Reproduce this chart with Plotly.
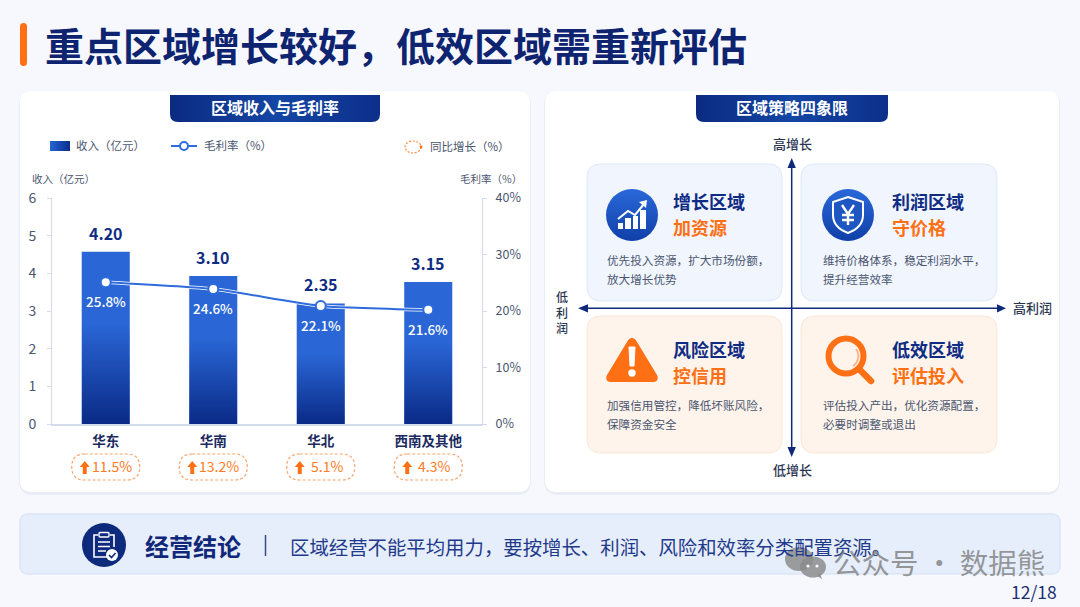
import base64

import plotly.graph_objects as go

W, H = 1080, 607
FONT = "Noto Sans CJK SC"
NAVY = "#0F2C84"
ORANGE = "#FF7014"
BLUE = "#2E6BDC"
GREY = "#4B566F"

categories = ["华东", "华南", "华北", "西南及其他"]
bar_heights = [4.57, 3.93, 3.2, 3.77]
bar_labels = ["4.20", "3.10", "2.35", "3.15"]
margin_points = [25.1, 23.9, 20.9, 20.2]
margin_labels = ["25.8%", "24.6%", "22.1%", "21.6%"]
growth_labels = ["11.5%", "13.2%", "5.1%", "4.3%"]
left_ticks = [0, 1, 2, 3, 4, 5, 6]
right_ticks = [0, 10, 20, 30, 40]
right_tick_labels = ["0%", "10%", "20%", "30%", "40%"]

quad_titles = ["增长区域", "利润区域", "风险区域", "低效区域"]
quad_actions = ["加资源", "守价格", "控信用", "评估投入"]
quad_lines = [
    ["优先投入资源，扩大市场份额，", "放大增长优势"],
    ["维持价格体系，稳定利润水平，", "提升经营效率"],
    ["加强信用管控，降低坏账风险，", "保障资金安全"],
    ["评估投入产出，优化资源配置，", "必要时调整或退出"],
]

PLOT_L, PLOT_R, PLOT_T, PLOT_B = 52, 482, 198, 424
BAR_W = 0.447


def fx(x):
    return x / W


def fy(y):
    return 1 - y / H


def rr_path(x0, y0, x1, y1, r, corners=(1, 1, 1, 1)):
    tl, tr, br, bl = [r * c for c in corners]
    pts = [
        f"M{fx(x0 + tl)},{fy(y0)}", f"L{fx(x1 - tr)},{fy(y0)}",
        f"Q{fx(x1)},{fy(y0)} {fx(x1)},{fy(y0 + tr)}", f"L{fx(x1)},{fy(y1 - br)}",
        f"Q{fx(x1)},{fy(y1)} {fx(x1 - br)},{fy(y1)}", f"L{fx(x0 + bl)},{fy(y1)}",
        f"Q{fx(x0)},{fy(y1)} {fx(x0)},{fy(y1 - bl)}", f"L{fx(x0)},{fy(y0 + tl)}",
        f"Q{fx(x0)},{fy(y0)} {fx(x0 + tl)},{fy(y0)}", "Z",
    ]
    return " ".join(pts)


shapes = []
images = []
notes = []


def box(x0, y0, x1, y1, r, fill, line=None, lw=1, dash=None, layer="below"):
    shapes.append(dict(type="path", path=rr_path(x0, y0, x1, y1, r), xref="paper", yref="paper",
                       fillcolor=fill, line=dict(color=line or "rgba(0,0,0,0)", width=lw if line else 0, dash=dash),
                       layer=layer))


def seg(x0, y0, x1, y1, color, lw=1.5, layer="below"):
    shapes.append(dict(type="line", x0=fx(x0), y0=fy(y0), x1=fx(x1), y1=fy(y1), xref="paper", yref="paper",
                       line=dict(color=color, width=lw), layer=layer))


def tri(a, b, c, color):
    path = f"M{fx(a[0])},{fy(a[1])} L{fx(b[0])},{fy(b[1])} L{fx(c[0])},{fy(c[1])} Z"
    shapes.append(dict(type="path", path=path, xref="paper", yref="paper", fillcolor=color,
                       line=dict(width=0), layer="above"))


def txt(x, y, text, size, color, weight=400, anchor="left"):
    # the CJK font sits about a pixel low in its box
    notes.append(dict(x=fx(x), y=fy(y - 1), xref="paper", yref="paper", text=text, showarrow=False,
                      xanchor=anchor, yanchor="middle", align="center", borderpad=0, borderwidth=0,
                      font=dict(family=FONT, size=size, color=color, weight=weight)))


def uri(doc):
    return "data:image/svg+xml;base64," + base64.b64encode(doc.encode()).decode()


def svg(x0, y0, x1, y1, body, vw=None, vh=None):
    vw = vw or (x1 - x0)
    vh = vh or (y1 - y0)
    doc = (f'<svg xmlns="http://www.w3.org/2000/svg" width="{vw * 4}" height="{vh * 4}" '
           f'viewBox="0 0 {vw} {vh}" preserveAspectRatio="none">{body}</svg>')
    images.append(dict(source=uri(doc), xref="paper", yref="paper", x=fx(x0), y=fy(y0),
                       sizex=(x1 - x0) / W, sizey=(y1 - y0) / H, xanchor="left", yanchor="top",
                       sizing="stretch", layer="above"))


def cat_x(i):
    return PLOT_L + (i + 0.5) * (PLOT_R - PLOT_L) / len(categories)


# page furniture
box(20, 23, 27, 66, 3.5, ORANGE)
txt(45, 45, "重点区域增长较好，低效区域需重新评估", 39, "#0E2470", 700)

for x0, x1 in [(20, 530), (545, 1059)]:
    box(x0 - 1, 91, x1 + 1, 495, 14, "#E9EDF6")
    box(x0, 91, x1, 492, 12, "#FFFFFF")


def tab(x0, x1, label):
    w = x1 - x0
    body = ('<defs><linearGradient id="g"><stop offset="0" stop-color="#0B2A80"/><stop offset=".5" '
            'stop-color="#1446A4"/><stop offset="1" stop-color="#0C2F8A"/></linearGradient></defs>'
            f'<path d="M0 0H{w}V19Q{w} 27 {w - 8} 27H8Q0 27 0 19Z" fill="url(#g)"/>')
    svg(x0, 95, x1, 122, body)
    txt((x0 + x1) / 2, 108.5, label, 16, "#FFFFFF", 700, "center")


tab(170, 380, "区域收入与毛利率")
tab(696, 888, "区域策略四象限")

# legend row
swatch = ('<defs><linearGradient id="g"><stop offset="0" stop-color="#2463D2"/><stop offset="1" '
          'stop-color="#0B2E8C"/></linearGradient></defs><rect width="20" height="10" fill="url(#g)"/>')
svg(50, 141, 70, 151, swatch)
txt(76, 146, "收入（亿元）", 11.5, GREY)
seg(171, 146, 197, 146, BLUE, 2)
svg(178, 140, 190, 152, f'<circle cx="6" cy="6" r="4" fill="#fff" stroke="{BLUE}" stroke-width="2"/>')
txt(204, 146, "毛利率（%）", 11.5, GREY)
svg(404, 140, 424, 154, '<ellipse cx="9" cy="7" rx="8" ry="6" fill="none" stroke="#FF8A3C" stroke-width="1.2" '
                        'stroke-dasharray="2 1.6"/><circle cx="17" cy="7" r="1.4" fill="#FF7014"/>')
txt(430, 147, "同比增长（%）", 11.5, GREY)
txt(32, 179.5, "收入（亿元）", 10.5, GREY)
txt(460, 179.5, "毛利率（%）", 10.5, GREY)

# chart annotations
for i, cat in enumerate(categories):
    notes.append(dict(x=cat, y=bar_heights[i], xref="x", yref="y", text=bar_labels[i], showarrow=False, yshift=19,
                      font=dict(family=FONT, size=16, color=NAVY, weight=700)))
    notes.append(dict(x=cat, y=margin_points[i], xref="x", yref="y2", text=margin_labels[i], showarrow=False,
                      yshift=-19, font=dict(family=FONT, size=13.5, color="#FFFFFF", weight=500)))
    cx = cat_x(i)
    box(cx - 34, 454, cx + 34, 480, 13, "rgba(255,255,255,0)", "#F9A66E", 1.2, "3px,2px")
    txt(cx + 6, 467, growth_labels[i], 14, "#FF7A1E", 400, "center")
    svg(cx - 26, 461, cx - 16, 474, '<path d="M5 0L10 6H7V13H3V6H0Z" fill="#FF7014"/>')
    bar_fade = ('<defs><linearGradient id="g" x2="0" y2="1"><stop offset=".42" stop-color="#0A2A86" stop-opacity="0"/>'
                '<stop offset="1" stop-color="#0A2A86"/></linearGradient></defs>'
                '<rect width="10" height="10" fill="url(#g)"/>')
    images.append(dict(source=uri('<svg xmlns="http://www.w3.org/2000/svg" width="100" height="300" viewBox="0 0 10 10" '
                                  f'preserveAspectRatio="none">{bar_fade}</svg>'),
                       xref="x", yref="y", x=i, y=bar_heights[i], sizex=BAR_W, sizey=bar_heights[i],
                       xanchor="center", yanchor="top", sizing="stretch", layer="above"))

# quadrant cards
quad_boxes = [(587, 164, 782, 301), (801, 164, 997, 301), (587, 316, 782, 453), (801, 316, 997, 453)]
for i, (x0, y0, x1, y1) in enumerate(quad_boxes):
    warm = i >= 2
    box(x0, y0, x1, y1, 14, "#FEF4EC" if warm else "#F0F5FE", "#FCE6D4" if warm else "#DDE8FA", 1)
    tx = x0 + (86 if i % 2 == 0 else 91)
    txt(tx, y0 + 38 - (4 if warm else 0), quad_titles[i], 18, NAVY, 700)
    txt(tx, y0 + 64 - (4 if warm else 0), quad_actions[i], 18, ORANGE, 700)
    bx = x0 + (20 if i % 2 == 0 else 22)
    txt(bx, y0 + 97 - (7 if warm else 0), quad_lines[i][0], 11.6, GREY)
    txt(bx, y0 + 116 - (7 if warm else 0), quad_lines[i][1], 11.6, GREY)

seg(791.7, 162, 791.7, 452, "#10297A", 1.5, "above")
seg(582, 308.3, 1002, 308.3, "#10297A", 1.5, "above")
tri((791.7, 158), (787.5, 168), (795.9, 168), "#10297A")
tri((791.7, 457), (787.5, 447), (795.9, 447), "#10297A")
tri((578, 308.3), (588, 304.2), (588, 312.4), "#10297A")
tri((1006, 308.3), (997, 304.2), (997, 312.4), "#10297A")
txt(792, 145, "高增长", 13, "#2A3552", 500, "center")
txt(792, 470, "低增长", 13, "#2A3552", 500, "center")
txt(1013, 308, "高利润", 13, "#2A3552", 500)
txt(562, 312.5, "低<br>利<br>润", 12, "#2A3552", 500, "center")

circle_fill = ('<defs><linearGradient id="g" x2="0" y2="1"><stop offset="0" stop-color="#2A68D8"/><stop offset="1" '
               'stop-color="#1040A8"/></linearGradient></defs><circle cx="26" cy="26" r="26" fill="url(#g)"/>')
svg(606, 189, 658, 241, circle_fill
    + '<g fill="#fff"><rect x="12" y="34" width="5" height="6"/><rect x="19" y="29" width="6" height="11"/>'
      '<rect x="27" y="27" width="5" height="13"/><rect x="34" y="21" width="6" height="19"/></g>'
      '<path d="M12 30L22 22L29 26L38 15" fill="none" stroke="#fff" stroke-width="2"/>'
      '<path d="M33 13L41 11L40 19Z" fill="#fff"/>')
svg(822, 189, 874, 241, circle_fill
    + '<path d="M26 8L41 13V26C41 35 34 41 26 44C18 41 11 35 11 26V13Z" fill="#1E57C2" stroke="#fff" stroke-width="2"/>'
      '<path d="M20 16L26 25L32 16M26 25V36M20 26H32M20 31H32" fill="none" stroke="#fff" stroke-width="2.4"/>')
svg(606, 336, 658, 382, '<path d="M26 2C24 2 22.500 3 21 6L1 39C-1 43 1 46 5 46H47C51 46 53 43 51 39L31 6C29.500 3 28 2 26 2Z" '
                        f'fill="{ORANGE}"/><path d="M23 11H29L28 30H24Z" fill="#fff" stroke="#fff" stroke-linejoin="round"/>'
                        '<circle cx="26" cy="37" r="3.700" fill="#fff"/>')
svg(825, 335, 875, 385, f'<circle cx="21" cy="21" r="17.500" fill="none" stroke="{ORANGE}" stroke-width="6"/>'
                        f'<path d="M34 34L46 46" stroke="{ORANGE}" stroke-width="6.500" stroke-linecap="round"/>'
                        '<path d="M31 14A12 12 0 0 1 28 31" fill="none" stroke="#FFB183" stroke-width="1.800"/>')

# conclusion band
box(20, 514, 1060, 574, 8, "#E6EEFB", "#D2DFF2", 1)
svg(82, 523, 126, 567, '<circle cx="22" cy="22" r="22" fill="#0D2A7D"/>'
                       '<path d="M16 12H12V34H25M28 12H32V24" fill="none" stroke="#fff" stroke-width="1.600"/>'
                       '<rect x="17" y="9.500" width="10" height="4.500" rx="1" fill="none" stroke="#fff" stroke-width="1.400"/>'
                       '<path d="M16 19H28M16 23.500H28M16 28H24" stroke="#fff" stroke-width="1.400"/>'
                       '<circle cx="30" cy="32" r="6" fill="#fff"/>'
                       '<path d="M27 32L29.500 34.500L33.500 30" fill="none" stroke="#0D2A7D" stroke-width="1.600"/>')
txt(145, 546, "经营结论", 24, "#10277A", 700)
seg(265.5, 535, 265.5, 556, "#3A4A7A", 1.5)
txt(290, 547, "区域经营不能平均用力，要按增长、利润、风险和效率分类配置资源。", 19.4, "#1F3A8A")

# watermark and page number
svg(784, 546, 826, 579, '<g fill="#8C8C8C" fill-opacity=".85"><ellipse cx="15" cy="13" rx="14" ry="12"/>'
                        '<ellipse cx="29" cy="21" rx="13" ry="10.500"/><path d="M33 30L38 33L36 27Z"/></g>'
                        '<g fill="#F5F7FC"><circle cx="24" cy="20" r="1.600"/><circle cx="33" cy="20" r="1.600"/></g>')
txt(833, 562, "公众号 · 数据熊", 28.5, "rgba(115,115,115,0.72)")
txt(1057, 592, "12/18", 17.5, "#1B2F72", 400, "right")

bars = go.Bar(x=categories, y=bar_heights, width=BAR_W, marker=dict(color="#2A66D6", line=dict(width=0)),
              hoverinfo="skip", showlegend=False)
halo = go.Scatter(x=categories, y=margin_points, yaxis="y2", mode="lines", line=dict(color="#FFFFFF", width=3.5,
                  shape="spline", smoothing=0.5), hoverinfo="skip", showlegend=False)
margin_line = go.Scatter(x=categories, y=margin_points, yaxis="y2", mode="lines+markers",
                         line=dict(color=BLUE, width=2, shape="spline", smoothing=0.5),
                         marker=dict(size=10, color="#FFFFFF", line=dict(color=BLUE, width=2)),
                         hoverinfo="skip", showlegend=False)

fig = go.Figure([bars, halo, margin_line])
axis_line = "#D3DBEC"
fig.update_layout(
    width=W, height=H, margin=dict(l=0, r=0, t=0, b=0, pad=0, autoexpand=False), autosize=False,
    paper_bgcolor="#F6F8FD", plot_bgcolor="rgba(0,0,0,0)", showlegend=False,
    font=dict(family=FONT),
    shapes=shapes, images=images, annotations=notes,
    xaxis=dict(domain=[fx(PLOT_L), fx(PLOT_R)], type="category", categoryorder="array", categoryarray=categories,
               showgrid=False, showline=True, linecolor=axis_line, linewidth=1.5, ticks="", ticklabelstandoff=4,
               tickfont=dict(family=FONT, size=13.5, color="#1B2A5E", weight=700), fixedrange=True),
    yaxis=dict(domain=[fy(PLOT_B), fy(PLOT_T)], range=[0, 6], tickvals=left_ticks, showgrid=False, zeroline=False,
               showline=True, linecolor=axis_line, linewidth=1, ticks="outside", ticklen=4, tickcolor=axis_line,
               ticklabelstandoff=8, tickfont=dict(family=FONT, size=14, color=GREY), fixedrange=True),
    yaxis2=dict(domain=[fy(PLOT_B), fy(PLOT_T)], range=[0, 40], tickvals=right_ticks, ticktext=right_tick_labels,
                overlaying="y", side="right", anchor="x", showgrid=False, zeroline=False, showline=True,
                linecolor=axis_line, linewidth=1, ticks="outside", ticklen=4, tickcolor=axis_line,
                ticklabelstandoff=6, tickfont=dict(family=FONT, size=12.5, color=GREY), fixedrange=True),
)
fig.write_html("out.html", config=dict(displayModeBar=False),
               post_script="document.body.style.margin='0';document.body.style.overflow='hidden';")
